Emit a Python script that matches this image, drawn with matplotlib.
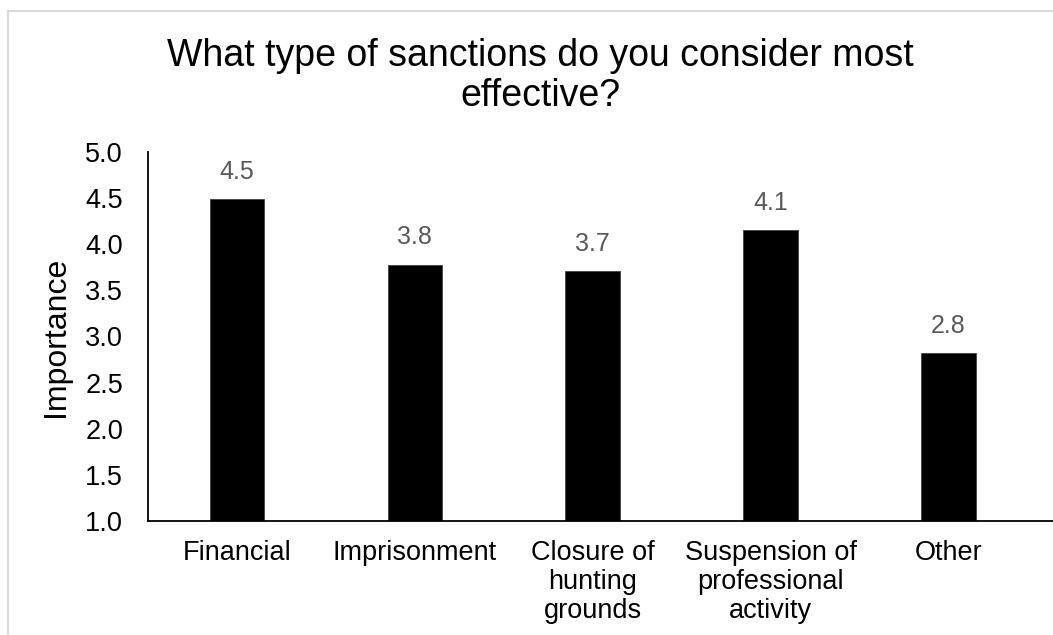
from matplotlib import pyplot as plt
from matplotlib.lines import Line2D

# survey answers: mean importance per sanction type
categories = ['Financial', 'Imprisonment', 'Closure of\nhunting\ngrounds',
              'Suspension of\nprofessional\nactivity', 'Other']
importance = [4.49, 3.78, 3.71, 4.15, 2.82]
value_labels = ['4.5', '3.8', '3.7', '4.1', '2.8']
yticks = [1.0, 1.5, 2.0, 2.5, 3.0, 3.5, 4.0, 4.5, 5.0]

plt.rcParams['font.family'] = ['Liberation Sans', 'DejaVu Sans']

fig = plt.figure(figsize=(10.53, 6.35), dpi=100)
ax = fig.add_axes([148/1053, 1 - 521/635, 1 - 148/1053, (521 - 152)/635])

x = range(len(categories))
bars = ax.bar(x, [v - 1.0 for v in importance], bottom=1.0, width=0.306,
              color='black', edgecolor='#404040', linewidth=0.6)

for xi, v, lab in zip(x, importance, value_labels):
    ax.annotate(lab, (xi, v), xytext=(0, 11), textcoords='offset points',
                ha='center', va='bottom', fontsize=18, color='#595959')

ax.set_xlim(-0.5, 4.588)
ax.set_ylim(1.0, 5.0)
ax.set_yticks(yticks)
ax.set_yticklabels(['%.1f' % t for t in yticks])
ax.set_xticks(list(x))
ax.set_xticklabels(categories, linespacing=1.15)
ax.tick_params(axis='both', length=0, labelsize=19.5, colors='black')
ax.tick_params(axis='y', pad=18)
ax.tick_params(axis='x', pad=14)
ax.set_ylabel('Importance', fontsize=23, labelpad=10)

for s in ['top', 'right']:
    ax.spines[s].set_visible(False)
for s in ['left', 'bottom']:
    ax.spines[s].set_linewidth(1.3)
    ax.spines[s].set_color('black')

fig.text(540/1053, 1 - 76/635,
         'What type of sanctions do you consider most\neffective?',
         ha='center', va='center', fontsize=27, linespacing=1.17)

# light grey frame of the chart area (only top and left show)
fig.add_artist(Line2D([8/1053, 1.0], [1 - 11/635, 1 - 11/635],
                      transform=fig.transFigure, color='#d9d9d9', linewidth=1.5))
fig.add_artist(Line2D([8/1053, 8/1053], [0.0, 1 - 11/635],
                      transform=fig.transFigure, color='#d9d9d9', linewidth=1.5))

plt.savefig('out.png', dpi=100)
